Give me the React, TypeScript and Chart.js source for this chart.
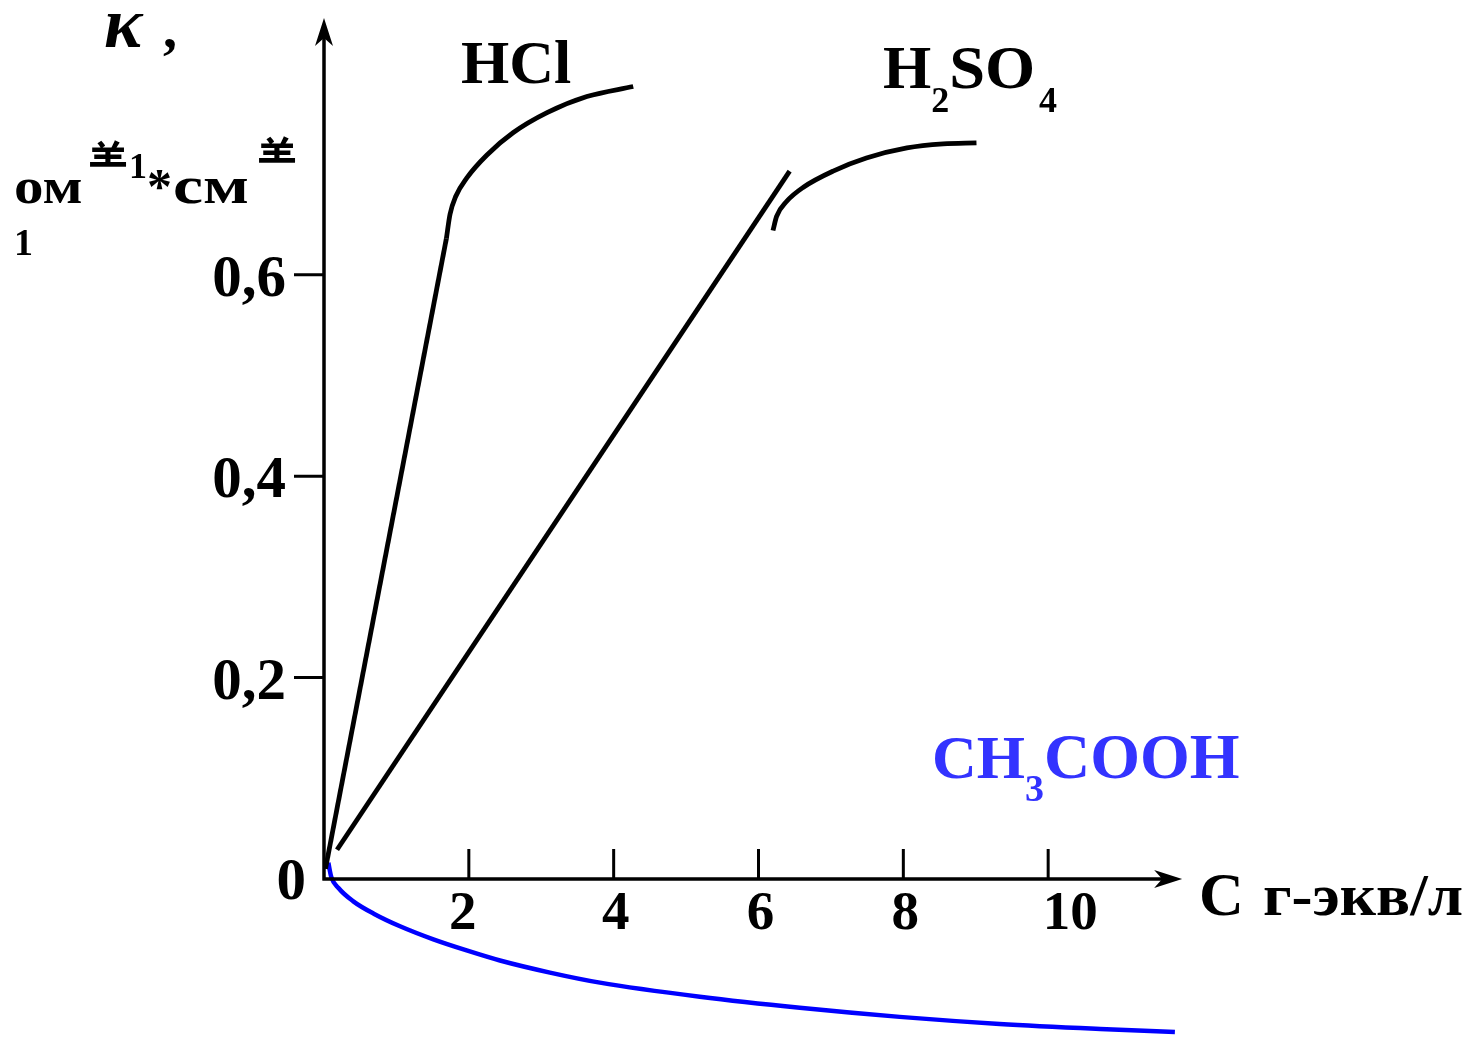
import React, { useEffect, useRef } from "react";
import { Chart, registerables } from "chart.js";

Chart.register(...registerables);

// ---- data (concentration C, conductivity κ) ----
const hclLineX = [0.02, 1.69];
const hclLineY = [0.01, 0.636];
const hclCurveX = [1.69, 1.74, 1.82, 1.97, 2.25, 2.61, 3.08, 3.63, 4.27];
const hclCurveY = [0.636, 0.66, 0.678, 0.696, 0.719, 0.741, 0.761, 0.777, 0.787];
const h2so4LineX = [0.18, 6.43];
const h2so4LineY = [0.029, 0.703];
const h2so4CurveX = [6.2, 6.25, 6.39, 6.62, 7.03, 7.49, 8.05, 8.55, 9.01];
const h2so4CurveY = [0.644, 0.658, 0.673, 0.687, 0.703, 0.716, 0.726, 0.73, 0.731];
const aceticX = [0.06, 0.1, 0.2, 0.4, 0.7, 1.05, 1.51, 1.97, 2.43, 3.12, 3.81, 5.19, 6.57, 7.95, 9.33, 10.72, 11.75];
const aceticY = [0.016, 0.002, -0.009, -0.022, -0.035, -0.047, -0.06, -0.071, -0.081, -0.093, -0.103, -0.117, -0.128, -0.137, -0.144, -0.149, -0.152];

const xTicks = [2, 4, 6, 8, 10];
const xTickLabels = ["2", "4", "6", "8", "10"];
const yTicks = [0.2, 0.4, 0.6];
const yTickLabels = ["0,2", "0,4", "0,6"];

const SERIF = '"Liberation Serif", "Times New Roman", serif';
const CJK = '"Noto Sans CJK SC", sans-serif';

const pts = (xs: number[], ys: number[]) => xs.map((x, i) => ({ x, y: ys[i] }));

type Part = { t: string; size: number; dy?: number; font?: string; style?: string; at?: number; sx?: number };

function drawParts(ctx: CanvasRenderingContext2D, parts: Part[], x: number, y: number, color: string) {
  let cx = x;
  ctx.fillStyle = color;
  ctx.textAlign = "left";
  ctx.textBaseline = "alphabetic";
  for (const p of parts) {
    if (p.at !== undefined) cx = p.at;
    const sx = p.sx || 1;
    ctx.font = `${p.style || "bold"} ${p.size}px ${p.font || SERIF}`;
    ctx.save();
    ctx.translate(cx, y + (p.dy || 0));
    ctx.scale(sx, 1);
    ctx.fillText(p.t, 0, 0);
    ctx.restore();
    cx += ctx.measureText(p.t).width * sx;
  }
}

const overlay = {
  id: "overlay",
  afterDraw(chart: any) {
    const ctx: CanvasRenderingContext2D = chart.ctx;
    const xs = chart.scales.x;
    const ys = chart.scales.y;
    const x0 = xs.getPixelForValue(0);
    const y0 = ys.getPixelForValue(0);
    const yTop = ys.getPixelForValue(0.855);
    const xEnd = xs.getPixelForValue(11.85);
    ctx.save();
    ctx.strokeStyle = "#000";
    ctx.fillStyle = "#000";
    ctx.lineWidth = 3.5;
    // axes
    ctx.beginPath();
    ctx.moveTo(x0, y0 + 1.5);
    ctx.lineTo(x0, yTop + 6);
    ctx.moveTo(x0 - 1.5, y0);
    ctx.lineTo(xEnd - 6, y0);
    ctx.stroke();
    // arrowheads
    ctx.beginPath();
    ctx.moveTo(x0, yTop);
    ctx.lineTo(x0 - 9, yTop + 28);
    ctx.lineTo(x0, yTop + 20);
    ctx.lineTo(x0 + 9, yTop + 28);
    ctx.closePath();
    ctx.fill();
    ctx.beginPath();
    ctx.moveTo(xEnd, y0);
    ctx.lineTo(xEnd - 28, y0 - 9);
    ctx.lineTo(xEnd - 20, y0);
    ctx.lineTo(xEnd - 28, y0 + 9);
    ctx.closePath();
    ctx.fill();
    // ticks
    ctx.lineWidth = 3;
    ctx.beginPath();
    xTicks.forEach((v) => {
      const px = xs.getPixelForValue(v);
      ctx.moveTo(px, y0);
      ctx.lineTo(px, y0 - 30);
    });
    yTicks.forEach((v) => {
      const py = ys.getPixelForValue(v);
      ctx.moveTo(x0, py);
      ctx.lineTo(x0 - 30, py);
    });
    ctx.stroke();
    // tick labels
    ctx.font = `bold 55px ${SERIF}`;
    ctx.textBaseline = "alphabetic";
    ctx.textAlign = "center";
    xTicks.forEach((v, i) => {
      const px = xs.getPixelForValue(v);
      ctx.fillText(xTickLabels[i], px + (i === 4 ? 22 : i === 0 ? -6 : 2), y0 + 50);
    });
    ctx.textAlign = "right";
    ctx.font = `bold 59px ${SERIF}`;
    yTicks.forEach((v, i) => {
      const py = ys.getPixelForValue(v);
      ctx.fillText(yTickLabels[i], x0 - 38, py + 21);
    });
    ctx.fillText("0", x0 - 18, y0 + 20);
    // axis titles
    drawParts(ctx, [{ t: "κ", size: 72, style: "italic bold" }, { t: ",", size: 56, at: 163 }], 104, 47, "#000");
    drawParts(
      ctx,
      [
        { t: "ом", size: 50, sx: 1.18, at: 14 },
        { t: "⺷", size: 40, dy: -28, font: CJK, at: 88 },
        { t: "1", size: 36, dy: -25, at: 129 },
        { t: "*", size: 50, at: 147 },
        { t: "см", size: 52, sx: 1.3, at: 173 },
        { t: "⺷", size: 40, dy: -32, font: CJK, at: 257 },
      ],
      14,
      203,
      "#000"
    );
    drawParts(ctx, [{ t: "1", size: 38 }], 14, 255, "#000");
    drawParts(ctx, [{ t: "С", size: 62, at: 1199 }, { t: "г-экв/л", size: 60, sx: 1.05, at: 1263 }], 1199, 915, "#000");
    // series labels
    drawParts(ctx, [{ t: "HCl", size: 62 }], 461, 83, "#000");
    drawParts(
      ctx,
      [
        { t: "H", size: 62 },
        { t: "2", size: 36, dy: 24 },
        { t: "SO", size: 62, sx: 1.04 },
        { t: "4", size: 36, dy: 24, at: 1039 },
      ],
      883,
      88,
      "#000"
    );
    drawParts(
      ctx,
      [
        { t: "CH", size: 62 },
        { t: "3", size: 38, dy: 23 },
        { t: "COOH", size: 64 },
      ],
      932,
      778,
      "#3333ff"
    );
    ctx.restore();
  },
};

export default function App() {
  const ref = useRef<HTMLCanvasElement>(null);
  useEffect(() => {
    document.body.style.margin = "0";
    const common = { pointRadius: 0, borderWidth: 4.8, fill: false, clip: false as any };
    const chart = new Chart(ref.current!, {
      type: "line",
      data: {
        datasets: [
          { ...common, label: "HCl", data: pts(hclLineX, hclLineY), borderColor: "#000", tension: 0 },
          { ...common, label: "HCl ", data: pts(hclCurveX, hclCurveY), borderColor: "#000", cubicInterpolationMode: "monotone" },
          { ...common, label: "H2SO4", data: pts(h2so4LineX, h2so4LineY), borderColor: "#000", tension: 0 },
          { ...common, label: "H2SO4 ", data: pts(h2so4CurveX, h2so4CurveY), borderColor: "#000", cubicInterpolationMode: "monotone" },
          { ...common, label: "CH3COOH", data: pts(aceticX, aceticY), borderColor: "#0000ff", borderWidth: 4.5, cubicInterpolationMode: "monotone" },
        ] as any,
      },
      options: {
        responsive: false,
        animation: false,
        layout: { padding: { left: 324, right: 279, top: 13, bottom: 3 } },
        plugins: { legend: { display: false }, tooltip: { enabled: false } },
        scales: {
          x: { type: "linear", min: 0, max: 12, display: false },
          y: { type: "linear", min: -0.155, max: 0.86, display: false },
        },
      },
      plugins: [overlay],
    });
    return () => chart.destroy();
  }, []);
  return (
    <div style={{ position: "absolute", left: 0, top: 0, width: 1472, height: 1038, background: "#fff" }}>
      <canvas ref={ref} width={1472} height={1038} />
    </div>
  );
}
